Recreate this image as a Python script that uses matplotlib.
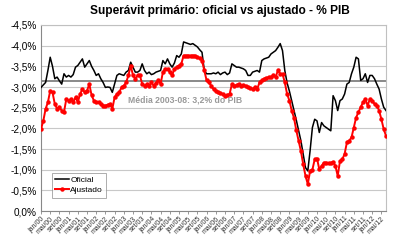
import matplotlib
matplotlib.use("Agg")
import matplotlib.pyplot as plt
import numpy as np

plt.rcParams['font.family'] = ['Liberation Sans', 'DejaVu Sans']

oficial = [
    -2.99, -3.05, -3.11, -3.40, -3.72, -3.50, -3.20, -3.24, -3.15, -3.07,
    -3.32, -3.24, -3.28, -3.24, -3.30, -3.48, -3.52, -3.60, -3.68, -3.48,
    -3.56, -3.64, -3.50, -3.40, -3.28, -3.32, -3.20, -3.11, -2.99, -3.00,
    -2.99, -2.87, -3.07, -3.28, -3.32, -3.30, -3.28, -3.36, -3.40, -3.60,
    -3.48, -3.36, -3.36, -3.40, -3.56, -3.40, -3.32, -3.36, -3.30, -3.32,
    -3.36, -3.38, -3.40, -3.64, -3.56, -3.68, -3.56, -3.48, -3.58, -3.76,
    -3.72, -3.80, -4.09, -4.07, -4.05, -4.03, -4.05, -4.01, -3.97, -3.90,
    -3.84, -3.40, -3.32, -3.32, -3.32, -3.34, -3.32, -3.36, -3.30, -3.34,
    -3.36, -3.30, -3.34, -3.56, -3.52, -3.48, -3.48, -3.46, -3.44, -3.40,
    -3.28, -3.28, -3.36, -3.38, -3.40, -3.36, -3.64, -3.68, -3.70, -3.72,
    -3.80, -3.84, -3.88, -3.96, -4.05, -3.88, -3.40, -3.10, -2.90, -2.67,
    -2.45, -2.20, -1.95, -1.70, -1.38, -1.05, -0.97, -1.46, -2.02, -2.22,
    -2.18, -1.90, -2.14, -2.06, -2.02, -1.98, -1.94, -2.79, -2.67, -2.43,
    -2.67, -2.71, -2.83, -3.07, -3.11, -3.32, -3.48, -3.72, -3.68, -3.16,
    -3.20, -3.32, -3.11, -3.28, -3.28, -3.20, -3.07, -2.95, -2.71, -2.51,
    -2.43,
]

ajustado = [
    -1.98, -2.18, -2.47, -2.63, -2.91, -2.87, -2.59, -2.47, -2.51, -2.43,
    -2.39, -2.71, -2.67, -2.71, -2.63, -2.75, -2.63, -2.83, -2.95, -2.87,
    -2.91, -3.07, -2.80, -2.67, -2.63, -2.63, -2.59, -2.55, -2.55, -2.57,
    -2.59, -2.47, -2.75, -2.83, -2.87, -2.99, -3.03, -3.11, -3.28, -3.52,
    -3.28, -3.20, -3.28, -3.28, -3.07, -3.03, -3.07, -3.03, -3.11, -3.03,
    -3.10, -3.16, -3.07, -3.36, -3.44, -3.44, -3.36, -3.28, -3.44, -3.48,
    -3.52, -3.56, -3.76, -3.76, -3.76, -3.76, -3.76, -3.76, -3.72, -3.70,
    -3.64, -3.40, -3.16, -3.11, -3.03, -2.95, -2.90, -2.87, -2.85, -2.83,
    -2.79, -2.81, -2.83, -3.07, -3.03, -3.05, -3.07, -3.03, -3.05, -3.03,
    -2.99, -2.97, -2.95, -2.99, -2.95, -3.11, -3.16, -3.20, -3.22, -3.24,
    -3.24, -3.28, -3.24, -3.40, -3.32, -3.32, -3.11, -2.83, -2.67, -2.43,
    -2.25, -1.95, -1.70, -1.45, -1.13, -0.85, -0.65, -0.97, -1.00, -1.25,
    -1.27, -1.01, -1.09, -1.17, -1.17, -1.16, -1.16, -1.19, -1.09, -0.85,
    -1.21, -1.25, -1.38, -1.66, -1.70, -1.78, -2.02, -2.26, -2.39, -2.51,
    -2.63, -2.71, -2.55, -2.71, -2.67, -2.59, -2.55, -2.43, -2.22, -1.98,
    -1.82,
]

media = -3.15
media_label = "Média 2003-08: 3,2% do PIB"
meses = ["jan", "mai", "set"]
anos = list(range(0, 13))
tick_labels = [f"{m}/{a:02d}" for a in anos for m in meses][:38]

x = np.arange(len(oficial))

fig = plt.figure(figsize=(4, 2.47), dpi=100)
ax = fig.add_axes([0.1025, 0.1457, 0.8625, 0.7531])

ax.axhline(media, color='#808080', lw=1.3, zorder=2)
ax.plot(x, oficial, color='black', lw=1.1, label='Oficial', zorder=3)
ax.plot(np.arange(len(ajustado)), ajustado, color='#ff0000', lw=1.4, marker='o',
        markersize=2.2, label='Ajustado', zorder=4)

ax.text(37.8, -2.69, media_label, color='#999999', fontsize=6.2,
        fontweight='bold', ha='left', va='center')

ax.set_xlim(0, len(oficial) - 1)
ax.set_ylim(0, -4.5)
yt = np.arange(0, -4.51, -0.5)
ax.set_yticks(yt)
ax.set_yticklabels([f"{v:.1f}%".replace('.', ',') if v != 0 else "0,0%" for v in yt],
                   fontsize=7.2)
ax.set_xticks(np.arange(0, 4 * len(tick_labels), 4))
ax.set_xticklabels(tick_labels, rotation=45, ha='right', rotation_mode='anchor',
                   fontsize=5, color='#333333')
ax.tick_params(axis='x', length=2, width=0.6, color='#888888', pad=1)
ax.tick_params(axis='y', length=0, pad=3)

ax.grid(axis='y', color='#c8c8c8', lw=0.8)
ax.set_axisbelow(True)
for s in ['top', 'right']:
    ax.spines[s].set_color('#c0c0c0')
    ax.spines[s].set_linewidth(0.8)
for s in ['left', 'bottom']:
    ax.spines[s].set_color('#888888')
    ax.spines[s].set_linewidth(0.8)

leg = ax.legend(loc='lower left', bbox_to_anchor=(0.02, 0.05), fontsize=6,
                frameon=True, fancybox=False, handlelength=1.6, borderpad=0.4,
                labelspacing=0.3, handletextpad=0.2)
leg.get_frame().set_edgecolor('#888888')
leg.get_frame().set_linewidth(0.6)

fig.text(0.55, 0.955, "Superávit primário: oficial vs ajustado - % PIB",
         ha='center', va='center', fontsize=8.6, fontweight='bold')

fig.savefig('out.png', dpi=100)
